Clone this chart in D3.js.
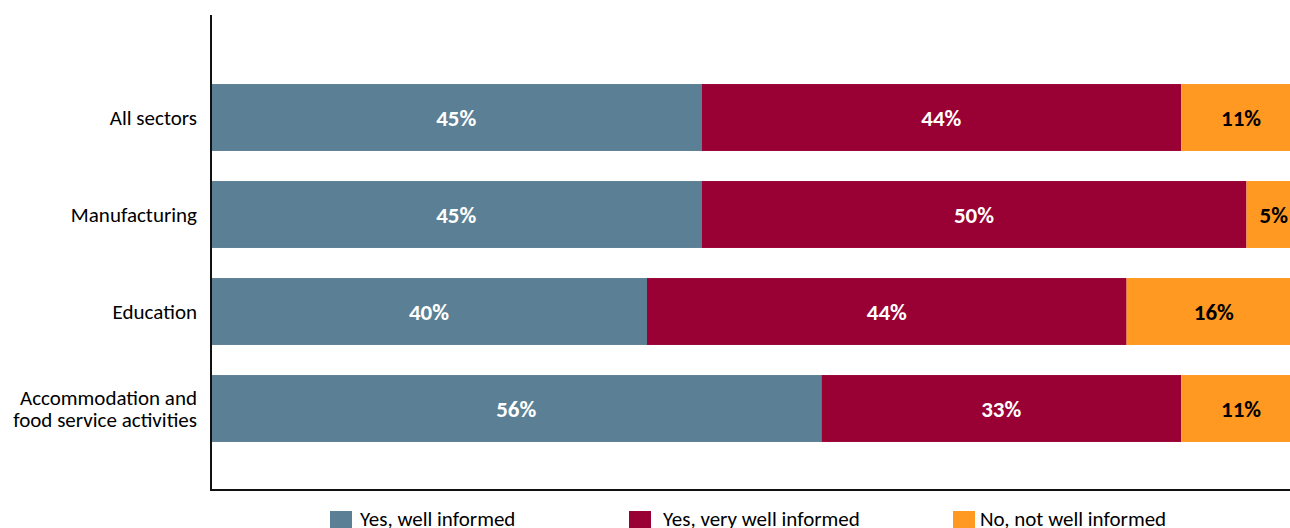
<!DOCTYPE html>
<html lang="en">

<head>
  <meta charset="utf-8">
  <title>Informed by sector</title>
  <script src="https://d3js.org/d3.v7.min.js" charset="utf-8"></script>
  <style type="text/css">
    body {
      margin: 0;
      background: #fff;
      overflow: hidden;
    }

    text {
      font-family: Carlito, Lato, "Open Sans", sans-serif;
    }
  </style>
</head>

<body>
  <script type="text/javascript">
    var sectors = ["All sectors", "Manufacturing", "Education", "Accommodation and\nfood service activities"];
    var seriesNames = ["Yes, well informed", "Yes, very well informed", "No, not well informed"];
    var wellInformed = [45, 45, 40, 56];
    var veryWellInformed = [44, 50, 44, 33];
    var notWellInformed = [11, 5, 16, 11];
    var colors = ["#5b7f95", "#990033", "#ff9922"];
    var labelColors = ["#fff", "#fff", "#000"];

    var width = 1290,
      height = 528;

    var svg = d3.select("body")
      .append("svg")
      .attr("width", width)
      .attr("height", height);

    var x = d3.scaleLinear()
      .domain([0, 100])
      .range([211, 1301]);

    var y = d3.scaleBand()
      .domain(sectors)
      .range([69, 457])
      .paddingInner(0.31)
      .paddingOuter(0.155);

    var rows = sectors.map(function (s, i) {
      return { sector: s, values: [wellInformed[i], veryWellInformed[i], notWellInformed[i]] };
    });

    var stack = d3.stack().keys([0, 1, 2]).value(function (d, k) { return d.values[k]; });
    var layers = stack(rows);

    var g = svg.selectAll("g.layer")
      .data(layers)
      .enter()
      .append("g")
      .attr("class", "layer");

    g.selectAll("rect")
      .data(function (d) { return d; })
      .enter()
      .append("rect")
      .attr("x", function (d) { return x(d[0]); })
      .attr("y", function (d) { return y(d.data.sector); })
      .attr("width", function (d) { return x(d[1]) - x(d[0]); })
      .attr("height", y.bandwidth())
      .attr("fill", function () { return colors[d3.select(this.parentNode).datum().key]; });

    g.selectAll("text")
      .data(function (d) { return d.map(function (p) { return { p: p, key: d.key }; }); })
      .enter()
      .append("text")
      .attr("x", function (d) { return (x(d.p[0]) + x(d.p[1])) / 2; })
      .attr("y", function (d) { return y(d.p.data.sector) + y.bandwidth() / 2; })
      .attr("dy", "0.36em")
      .attr("text-anchor", "middle")
      .attr("font-size", "23px")
      .attr("font-weight", "bold")
      .attr("fill", function (d) { return labelColors[d.key]; })
      .text(function (d) { return (d.p[1] - d.p[0]) + "%"; });

    // category labels
    var yAxis = svg.append("g");
    sectors.forEach(function (s) {
      var lines = s.split("\n");
      var t = yAxis.append("text")
        .attr("text-anchor", "end")
        .attr("font-size", "21px")
        .attr("fill", "#000")
        .attr("y", y(s) + y.bandwidth() / 2 - (lines.length - 1) * 11);
      lines.forEach(function (l, j) {
        t.append("tspan")
          .attr("x", 197)
          .attr("dy", j === 0 ? "0.35em" : "22px")
          .text(l);
      });
    });

    // axis lines
    svg.append("line")
      .attr("x1", 211).attr("x2", 211)
      .attr("y1", 15).attr("y2", 490)
      .attr("stroke", "#111").attr("stroke-width", 2);
    svg.append("line")
      .attr("x1", 210).attr("x2", width)
      .attr("y1", 490).attr("y2", 490)
      .attr("stroke", "#111").attr("stroke-width", 2);

    // legend
    var legendX = [330, 629, 953];
    var legend = svg.selectAll("g.legend")
      .data(seriesNames)
      .enter()
      .append("g")
      .attr("class", "legend")
      .attr("transform", function (d, i) { return "translate(" + legendX[i] + ",511)"; });

    legend.append("rect")
      .attr("width", 22)
      .attr("height", 20)
      .attr("fill", function (d, i) { return colors[i]; });

    legend.append("text")
      .attr("x", function (d, i) { return i === 1 ? 34 : (i === 2 ? 27 : 30); })
      .attr("y", 15)
      .attr("font-size", "21px")
      .attr("fill", "#000")
      .text(function (d) { return d; });
  </script>
</body>

</html>
